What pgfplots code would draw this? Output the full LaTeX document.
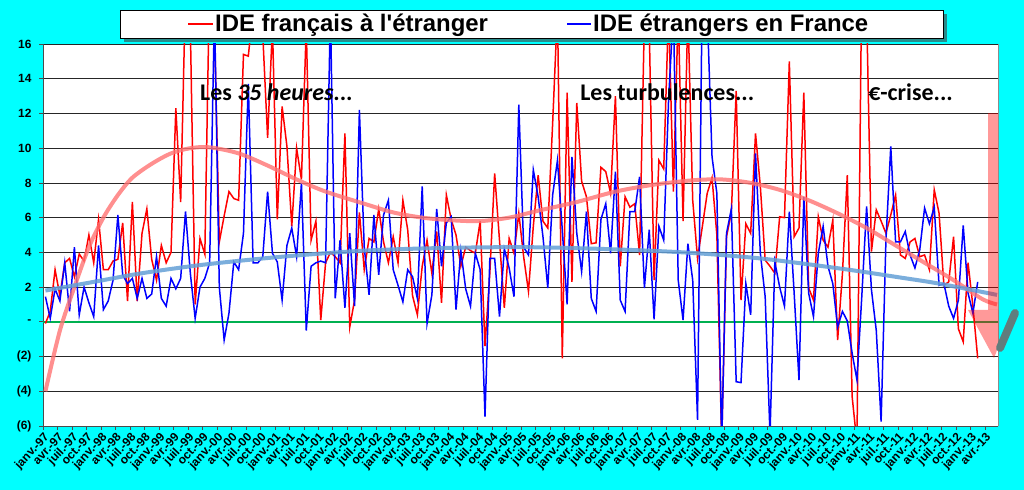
\documentclass[border=0pt]{standalone}
\usepackage{fontspec}
\setmainfont{Liberation Sans}
\newfontfamily\calib{Carlito}
\usepackage{pgfplots}
\usepackage{pgfplotstable}
\pgfplotsset{compat=1.18}
\definecolor{cyanbg}{RGB}{0,255,255}
\definecolor{zgreen}{RGB}{0,176,80}
\definecolor{trendred}{RGB}{255,115,115}
\definecolor{trendblue}{RGB}{100,160,215}
\definecolor{shadowc}{RGB}{40,140,140}
\definecolor{checkc}{RGB}{96,125,125}
\definecolor{serred}{RGB}{255,0,0}
\definecolor{serblue}{RGB}{0,0,255}

\pgfplotstableread{
i fr et
0 -0.1 1.45
1 0.6 0.2
2 3.0 1.9
3 1.5 1.2
4 3.4 3.4
5 3.65 0.6
6 2.6 4.3
7 3.9 0.4
8 3.5 2.0
9 5.0 1.1
10 3.4 0.3
11 5.9 4.4
12 3.0 0.7
13 3.0 1.2
14 3.5 2.4
15 3.6 6.15
16 5.7 2.7
17 1.2 2.2
18 6.9 2.5
19 1.2 1.35
20 5.1 2.5
21 6.5 1.35
22 3.6 1.6
23 2.4 3.75
24 4.4 1.35
25 3.4 0.9
26 4.0 2.5
27 12.3 1.9
28 6.9 2.5
29 19 6.35
30 17 2.8
31 1.0 0.2
32 4.8 2.0
33 3.9 2.5
34 20 3.4
35 17 18
36 4.6 2.0
37 6.1 -1.05
38 7.5 0.5
39 7.1 3.45
40 7.0 3.0
41 15.4 5.1
42 15.3 13.7
43 18 3.4
44 17 3.4
45 16.5 3.75
46 10.6 7.5
47 17 3.95
48 5.9 3.45
49 12.4 1.25
50 10.1 4.4
51 5.5 5.4
52 10.0 3.75
53 8.2 8.0
54 17 -0.5
55 4.7 3.2
56 5.8 3.4
57 0.1 3.5
58 3.4 3.4
59 4.0 18
60 3.75 1.35
61 3.4 4.7
62 10.85 0.8
63 -0.3 5.1
64 1.25 0.9
65 6.3 12.2
66 3.0 4.3
67 4.8 1.55
68 4.6 6.15
69 6.5 2.7
70 4.6 6.15
71 3.4 7.0
72 4.9 3.0
73 3.4 2.1
74 7.0 1.15
75 5.3 3.0
76 1.5 2.6
77 0.4 1.35
78 3.2 7.8
79 4.7 -0.1
80 2.8 1.55
81 5.2 6.5
82 1.1 3.2
83 7.3 5.7
84 5.9 6.05
85 5.0 0.7
86 3.2 4.1
87 4.3 1.9
88 4.1 0.9
89 3.95 3.95
90 5.8 3.0
91 -1.4 -5.46
92 2.8 3.65
93 8.55 3.65
94 4.7 0.3
95 0.8 4.2
96 4.8 3.1
97 3.95 1.45
98 6.25 12.5
99 3.75 4.3
100 1.75 3.85
101 5.5 8.75
102 8.45 7.2
103 5.8 4.9
104 5.4 1.95
105 11.4 7.3
106 18 9.3
107 -2.1 5.3
108 13.2 1.0
109 2.3 9.5
110 12.6 5.1
111 8.1 2.9
112 7.2 6.35
113 4.5 1.35
114 4.55 0.6
115 8.9 5.9
116 8.65 6.8
117 7.4 3.95
118 13.0 8.65
119 3.2 1.25
120 7.2 0.6
121 6.6 6.35
122 6.8 6.35
123 3.85 8.35
124 17.5 1.95
125 17 5.3
126 2.4 0.15
127 9.3 5.5
128 8.8 4.7
129 18 12.75
130 7.5 18
131 18 2.4
132 5.8 0.1
133 18 4.5
134 7.0 2.4
135 3.65 -5.65
136 5.5 20
137 7.4 18
138 8.3 9.5
139 5.0 7.4
140 -7 -7
141 4.9 5.1
142 6.3 6.5
143 13.3 -3.45
144 1.25 -3.5
145 5.65 2.2
146 5.1 0.4
147 10.85 9.7
148 7.8 3.95
149 3.55 1.45
150 3.2 -6.5
151 2.8 3.45
152 6.05 2.0
153 6.0 0.9
154 15.0 6.35
155 4.9 1.65
156 5.4 -3.35
157 13.2 7.2
158 1.95 1.65
159 1.25 0.3
160 6.05 3.95
161 4.7 5.5
162 4.3 3.2
163 5.85 2.2
164 -1.05 -0.3
165 2.8 0.6
166 8.45 0.05
167 -4.3 -1.8
168 -7 -3.35
169 20 1.45
170 18 6.65
171 4.05 1.85
172 6.45 -0.5
173 5.8 -5.75
174 5.1 4.7
175 6.15 10.1
176 7.3 4.6
177 3.85 4.6
178 3.65 5.2
179 4.6 3.85
180 4.8 3.1
181 3.75 4.15
182 3.85 6.55
183 3.0 5.65
184 7.6 6.6
185 6.25 2.1
186 2.1 2.2
187 2.3 0.9
188 4.9 0.2
189 -0.4 1.25
190 -1.15 5.55
191 3.4 1.65
192 0.9 0.5
193 -2.1 2.3
}\data

\begin{document}
\begin{tikzpicture}
\fill[cyanbg] (0bp,0bp) rectangle (1024bp,490bp);
\begin{axis}[
  at={(43bp,64bp)}, anchor=south west,
  width=955bp, height=382bp, scale only axis,
  xmin=-0.5, xmax=197.2, ymin=-6, ymax=16,
  axis background/.style={fill=white},
  axis x line*=bottom, axis y line*=left,
  axis line style={black!70, line width=0.8bp},
  tick align=outside, major tick length=4bp,
  tick style={black!70, line width=0.7bp},
  xtick={-0.5,2.5,...,194.5},
  xticklabels={janv.-97,avr.-97,juil.-97,oct.-97,janv.-98,avr.-98,juil.-98,oct.-98,janv.-99,avr.-99,juil.-99,oct.-99,janv.-00,avr.-00,juil.-00,oct.-00,janv.-01,avr.-01,juil.-01,oct.-01,janv.-02,avr.-02,juil.-02,oct.-02,janv.-03,avr.-03,juil.-03,oct.-03,janv.-04,avr.-04,juil.-04,oct.-04,janv.-05,avr.-05,juil.-05,oct.-05,janv.-06,avr.-06,juil.-06,oct.-06,janv.-07,avr.-07,juil.-07,oct.-07,janv.-08,avr.-08,juil.-08,oct.-08,janv.-09,avr.-09,juil.-09,oct.-09,janv.-10,avr.-10,juil.-10,oct.-10,janv.-11,avr.-11,juil.-11,oct.-11,janv.-12,avr.-12,juil.-12,oct.-12,janv.-13,avr.-13},
  xticklabel style={rotate=47, anchor=north east, font=\fontsize{12}{14}\selectfont\bfseries, inner sep=1pt},
  ytick={-6,-4,...,16},
  yticklabels={(6),(4),(2),-,2,4,6,8,10,12,14,16},
  yticklabel style={font=\fontsize{12}{14}\selectfont\bfseries, xshift=-4bp},
  ymajorgrids, major grid style={black!85, line width=0.7bp},
]
\addplot[zgreen, line width=2.6bp] coordinates {(-0.5,0) (197.2,0)};
\addplot[serred, line width=1.5bp] table[x=i, y=fr] {\data};
\addplot[serblue, line width=1.5bp] table[x=i, y=et] {\data};
\addplot[trendred, opacity=0.8, line width=4bp, smooth] coordinates {
(0,-4) (3,-0.5) (6,2.0) (9,4.3) (12,6.0) (15,7.3) (18,8.3) (22,9.1) (26,9.7) (30,10.0) (34,10.05) (40,9.7) (46,9.0) (52,8.2) (58,7.5) (66,6.8) (72,6.3) (78,6.0) (84,5.85) (90,5.8) (96,6.0) (102,6.4) (110,6.9) (118,7.5) (126,7.9) (134,8.15) (140,8.2) (146,8.0) (152,7.6) (158,7.0) (164,6.25) (170,5.4) (176,4.4) (182,3.4) (188,2.4) (194,1.3) (197,1.0)};
\addplot[trendblue, opacity=0.85, line width=4bp, smooth] coordinates {
(0,1.8) (10,2.3) (20,2.8) (33,3.3) (49,3.75) (66,4.1) (82,4.25) (99,4.3) (115,4.2) (132,4.0) (148,3.65) (165,3.05) (177,2.55) (185,2.2) (197,1.55)};
\node[anchor=west, font=\calib\fontsize{24}{28}\selectfont\bfseries, inner sep=0pt] at (axis cs:32,13.2) {Les \textit{35 heures}...};
\node[anchor=west, font=\calib\fontsize{24}{28}\selectfont\bfseries, inner sep=0pt] at (axis cs:110.7,13.2) {Les turbulences...};
\node[anchor=west, font=\calib\fontsize{24}{28}\selectfont\bfseries, inner sep=0pt] at (axis cs:170.3,13.2) {€-crise...};
\end{axis}
% right border of plot area
\draw[black!45, line width=0.8bp] (998bp,64bp) -- (998bp,446bp);
% arrow
\fill[serred, opacity=0.4] (987.7bp,377bp) rectangle (998.3bp,180bp);
\fill[serred, opacity=0.4] (968bp,180bp) -- (998.3bp,180bp) -- (998.3bp,143bp) -- (994bp,132bp) -- cycle;
\draw[checkc, line width=8bp, line cap=round] (1000bp,142bp) -- (1015bp,177bp);
% legend
\fill[shadowc] (124bp,448bp) rectangle (947bp,476bp);
\draw[black, line width=0.8bp, fill=white] (120bp,452bp) rectangle (943bp,480bp);
\draw[serred, line width=1.6bp] (188bp,466bp) -- (213bp,466bp);
\node[anchor=west, inner sep=0pt, font=\fontsize{24}{28}\selectfont\bfseries] at (215bp,465bp) {IDE français à l\textquotesingle étranger};
\draw[serblue, line width=1.6bp] (567bp,466bp) -- (591bp,466bp);
\node[anchor=west, inner sep=0pt, font=\fontsize{24}{28}\selectfont\bfseries] at (593bp,465bp) {IDE étrangers en France};
\end{tikzpicture}
\end{document}
